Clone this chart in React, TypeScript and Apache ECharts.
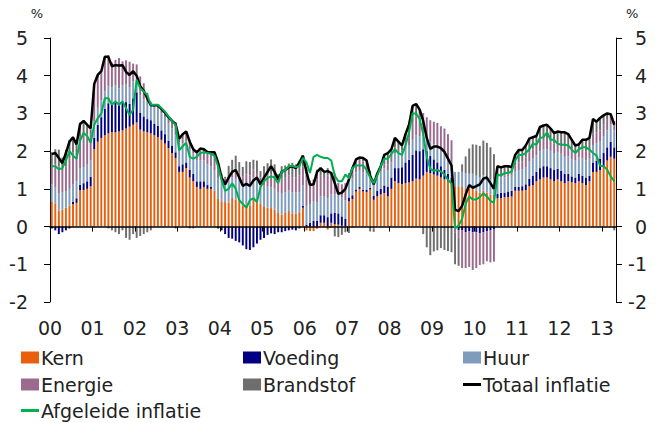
import React, { useEffect, useRef } from "react";
import * as echarts from "echarts";

// ---- categories -------------------------------------------------------
const yearLabels = ["00", "01", "02", "03", "04", "05", "06", "07", "08", "09", "10", "11", "12", "13"];
const months: string[] = [];
for (let y = 2000; y <= 2013; y++) {
  for (let m = 1; m <= 12; m++) {
    if (months.length < 160) months.push(`${y}-${m < 10 ? "0" + m : m}`);
  }
}

// ---- series values (contributions, %-points), Jan 2000 - Apr 2013 ------
const kern = [
  0.67, 0.6, 0.42, 0.45, 0.5, 0.55, 0.6, 0.63, 0.96, 0.97, 1.0, 1.07,
  2.05, 2.25, 2.35, 2.42, 2.47, 2.5, 2.5, 2.52, 2.55, 2.6, 2.65, 2.7,
  2.76, 2.57, 2.52, 2.5, 2.47, 2.42, 2.37, 2.3, 2.2, 2.08, 1.95, 1.82,
  1.45, 1.45, 1.55, 1.3, 1.2, 1.05, 1.0, 1.05, 1.0, 1.0, 0.95, 0.75,
  0.67, 0.65, 0.63, 0.76, 0.72, 0.7, 0.55, 0.58, 0.55, 0.76, 0.67, 0.6,
  0.54, 0.5, 0.49, 0.45, 0.36, 0.32, 0.36, 0.41, 0.35, 0.35, 0.36, 0.5,
  -0.1, -0.12, -0.12, -0.06, 0.1, 0.1, -0.08, 0.1, 0.06, 0.05, 0.02, -0.03,
  0.67, 0.73, 0.93, 1.0, 0.93, 0.92, 0.98, 0.71, 0.8, 0.85, 0.89, 0.8,
  1.0, 1.2, 1.15, 1.12, 1.15, 1.17, 1.2, 1.27, 1.25, 1.35, 1.45, 1.42,
  1.38, 1.35, 1.3, 1.25, 1.2, 1.15, 1.05, 1.05, 1.05, 1.0, 1.0, 1.0,
  0.95, 0.9, 0.95, 0.9, 0.85, 0.85, 0.75, 0.75, 0.78, 0.78, 0.8, 0.95,
  0.95, 0.95, 0.97, 1.07, 1.1, 1.2, 1.25, 1.3, 1.3, 1.25, 1.2, 1.25,
  1.2, 1.15, 1.2, 1.18, 1.15, 1.2, 1.15, 1.1, 1.2, 1.45, 1.45, 1.5,
  1.6, 1.75, 1.85, 1.8,
];
const voeding = [
  -0.05, -0.1, -0.2, -0.15, -0.1, -0.05, 0.05, 0.12, 0.15, 0.18, 0.2, 0.25,
  0.3, 0.45, 0.55, 0.7, 0.8, 0.75, 0.8, 0.7, 0.75, 0.7, 0.6, 0.7,
  0.8, 0.45, 0.4, 0.35, 0.35, 0.3, 0.3, 0.25, 0.25, 0.2, 0.2, 0.15,
  0.15, 0.2, 0.15, 0.2, 0.2, 0.15, 0.2, 0.15, 0.1, 0.05, 0.0, -0.05,
  -0.1, -0.2, -0.3, -0.32, -0.38, -0.42, -0.5, -0.6, -0.62, -0.55, -0.45, -0.35,
  -0.3, -0.22, -0.18, -0.2, -0.15, -0.15, -0.12, -0.1, -0.08, -0.1, -0.05, 0.05,
  0.05, 0.1, 0.15, 0.15, 0.2, 0.2, 0.25, 0.25, 0.3, 0.3, 0.25, 0.2,
  0.1, 0.1, 0.05, 0.05, 0.05, 0.05, 0.05, 0.1, 0.15, 0.15, 0.2, 0.25,
  0.3, 0.35, 0.4, 0.45, 0.55, 0.6, 0.7, 0.75, 0.75, 0.7, 0.55, 0.45,
  0.4, 0.35, 0.3, 0.25, 0.2, 0.15, -0.05, -0.1, -0.1, -0.15, -0.12, -0.15,
  -0.15, -0.17, -0.15, -0.12, -0.1, -0.08, 0.12, 0.15, 0.12, 0.15, 0.15, 0.1,
  0.1, 0.12, 0.15, 0.2, 0.25, 0.25, 0.3, 0.3, 0.3, 0.3, 0.3, 0.28,
  0.28, 0.25, 0.2, 0.15, 0.15, 0.2, 0.2, 0.2, 0.15, 0.25, 0.3, 0.3,
  0.35, 0.35, 0.4, 0.3,
];
const huur = [
  0.45, 0.45, 0.47, 0.45, 0.44, 0.45, 0.46, 0.45, 0.44, 0.43, 0.44, 0.43,
  0.44, 0.45, 0.45, 0.46, 0.45, 0.45, 0.44, 0.45, 0.45, 0.46, 0.45, 0.45,
  0.45, 0.46, 0.45, 0.45, 0.44, 0.45, 0.45, 0.45, 0.46, 0.45, 0.45, 0.45,
  0.55, 0.56, 0.55, 0.55, 0.54, 0.55, 0.55, 0.56, 0.55, 0.55, 0.55, 0.54,
  0.55, 0.55, 0.56, 0.55, 0.55, 0.54, 0.55, 0.55, 0.56, 0.55, 0.55, 0.55,
  0.55, 0.56, 0.55, 0.55, 0.54, 0.55, 0.55, 0.55, 0.56, 0.55, 0.55, 0.55,
  0.5, 0.5, 0.51, 0.5, 0.5, 0.49, 0.5, 0.5, 0.5, 0.51, 0.5, 0.5,
  0.45, 0.45, 0.46, 0.45, 0.45, 0.44, 0.45, 0.45, 0.45, 0.46, 0.45, 0.45,
  0.4, 0.4, 0.41, 0.4, 0.4, 0.39, 0.4, 0.4, 0.4, 0.41, 0.4, 0.4,
  0.4, 0.4, 0.41, 0.4, 0.4, 0.39, 0.4, 0.4, 0.4, 0.41, 0.4, 0.4,
  0.4, 0.4, 0.41, 0.4, 0.4, 0.39, 0.4, 0.4, 0.4, 0.41, 0.4, 0.42,
  0.45, 0.45, 0.46, 0.45, 0.45, 0.44, 0.45, 0.45, 0.45, 0.46, 0.45, 0.45,
  0.45, 0.45, 0.46, 0.45, 0.45, 0.44, 0.45, 0.45, 0.45, 0.46, 0.45, 0.45,
  0.45, 0.45, 0.46, 0.45,
];
const energie = [
  0.5, 0.6, 0.7, 0.6, 0.65, 0.8, 0.85, 0.7, 0.85, 0.85, 0.8, 0.7,
  0.83, 0.77, 0.72, 0.88, 0.83, 0.65, 0.68, 0.8, 0.63, 0.65, 0.67, 0.47,
  0.29, 0.5, 0.43, 0.25, 0.05, 0.05, 0.05, 0.07, 0.07, 0.12, 0.15, 0.35,
  0.08, 0.1, 0.22, 0.25, 0.15, 0.22, 0.27, 0.3, 0.33, 0.32, 0.42, 0.4,
  0.1, 0.08, 0.15, 0.15, 0.2, 0.2, 0.22, 0.25, 0.25, 0.2, 0.2, 0.15,
  0.25, 0.3, 0.35, 0.35, 0.35, 0.4, 0.4, 0.4, 0.4, 0.4, 0.45, 0.5,
  0.75, 0.5, 0.45, 0.6, 0.55, 0.5, 0.6, 0.6, 0.55, 0.3, 0.35, 0.45,
  0.2, 0.3, 0.35, 0.3, 0.3, 0.25, 0.0, -0.05, 0.0, 0.05, 0.1, 0.15,
  0.15, 0.15, 0.1, 0.05, 0.1, 0.2, 0.45, 0.5, 0.55, 0.55, 0.5, 0.55,
  0.6, 0.65, 0.65, 0.7, 0.65, 0.6, -0.1, -0.2, -1.0, -0.95, -0.95, -1.0,
  -0.95, -0.85, -0.85, -0.8, -0.85, -0.85, 0.05, 0.05, 0.05, 0.05, 0.05, 0.15,
  0.2, 0.2, 0.25, 0.25, 0.25, 0.25, 0.3, 0.3, 0.3, 0.3, 0.25, 0.25,
  0.25, 0.3, 0.3, 0.3, 0.25, 0.2, 0.25, 0.25, 0.25, 0.3, 0.3, 0.3,
  0.3, 0.3, 0.25, 0.25,
];
const brandstof = [
  0.35, 0.4, 0.45, 0.33, 0.45, 0.5, 0.42, 0.28, 0.31, 0.35, 0.25, 0.13,
  0.15, 0.1, 0.05, 0.05, -0.05, -0.1, -0.15, -0.2, -0.1, -0.3, -0.35, -0.2,
  -0.3, -0.25, -0.2, -0.15, -0.1, 0.0, 0.05, 0.05, 0.05, 0.05, 0.05, -0.05,
  0.1, 0.15, 0.05, -0.05, -0.05, 0.0, 0.05, 0.0, 0.0, 0.05, 0.05, 0.05,
  0.08, 0.04, 0.27, 0.31, 0.41, 0.27, 0.26, 0.35, 0.35, 0.26, 0.33, 0.17,
  0.26, 0.32, 0.39, 0.3, 0.14, 0.33, 0.31, 0.31, 0.38, 0.35, 0.39, 0.28,
  0.25, 0.12, 0.14, 0.26, 0.2, 0.15, 0.2, -0.03, -0.26, -0.28, -0.22, -0.12,
  -0.17, -0.03, 0.0, 0.03, 0.09, 0.08, -0.13, -0.09, 0.0, 0.1, 0.26, 0.3,
  0.2, 0.25, 0.2, 0.13, 0.25, 0.33, 0.45, 0.33, 0.15, -0.2, -0.55, -0.76,
  -0.66, -0.63, -0.57, -0.62, -0.65, -0.68, -0.85, -0.74, 0.2, 0.45, 0.67, 0.78,
  0.82, 0.84, 0.92, 0.92, 0.85, 0.68, 0.28, 0.22, 0.25, 0.22, 0.18, 0.28,
  0.33, 0.31, 0.33, 0.36, 0.32, 0.25, 0.34, 0.33, 0.35, 0.3, 0.28, 0.29,
  0.32, 0.35, 0.3, 0.22, 0.15, 0.13, 0.25, 0.3, 0.3, 0.4, 0.28, 0.33,
  0.25, 0.15, 0.03, -0.1,
];
const totaal = [
  1.92, 1.95, 1.82, 1.68, 1.95, 2.25, 2.37, 2.18, 2.72, 2.8, 2.7, 2.6,
  3.78, 4.02, 4.12, 4.5, 4.5, 4.25, 4.28, 4.27, 4.28, 4.1, 4.02, 4.12,
  4.0, 3.72, 3.6, 3.4, 3.22, 3.22, 3.22, 3.12, 3.02, 2.9, 2.8, 2.72,
  2.33, 2.45, 2.52, 2.25, 2.05, 1.97, 2.07, 2.05, 1.98, 1.97, 1.97, 1.7,
  1.3, 1.12, 1.3, 1.45, 1.5, 1.3, 1.08, 1.13, 1.08, 1.22, 1.3, 1.12,
  1.3, 1.45, 1.6, 1.45, 1.25, 1.45, 1.5, 1.57, 1.6, 1.55, 1.7, 1.88,
  1.45, 1.1, 1.12, 1.45, 1.55, 1.45, 1.47, 1.42, 1.15, 0.87, 0.9, 1.0,
  1.25, 1.55, 1.78, 1.83, 1.82, 1.75, 1.35, 1.12, 1.4, 1.6, 1.9, 1.95,
  2.05, 2.35, 2.25, 2.15, 2.45, 2.7, 3.2, 3.25, 3.1, 2.8, 2.35, 2.06,
  2.12, 2.12, 2.08, 1.98, 1.8, 1.62, 0.45, 0.41, 0.55, 0.85, 1.1, 1.03,
  1.07, 1.12, 1.27, 1.3, 1.15, 1.0, 1.6, 1.57, 1.6, 1.6, 1.58, 1.9,
  2.03, 2.03, 2.15, 2.33, 2.37, 2.4, 2.64, 2.68, 2.7, 2.6, 2.48, 2.52,
  2.5, 2.5, 2.45, 2.3, 2.15, 2.18, 2.3, 2.3, 2.35, 2.85, 2.78, 2.88,
  2.95, 3.0, 2.98, 2.7,
];
const afgeleide = [
  1.6, 1.6, 1.52, 1.55, 1.75, 2.0, 1.88, 1.8, 2.28, 2.48, 2.4, 2.22,
  2.7, 2.87, 3.0, 3.4, 3.4, 3.23, 3.32, 3.23, 3.32, 3.14, 2.96, 3.1,
  3.89, 3.67, 3.58, 3.49, 3.23, 3.23, 3.23, 3.14, 3.05, 2.92, 2.79, 2.7,
  2.02, 2.13, 2.22, 1.85, 1.8, 1.85, 1.95, 1.97, 1.95, 1.93, 1.88, 1.6,
  1.24, 0.95, 1.0, 1.15, 1.0, 0.7, 0.6, 0.5, 0.7, 0.75, 0.65, 1.05,
  1.2, 1.29, 1.33, 1.3, 1.15, 1.45, 1.5, 1.6, 1.61, 1.58, 1.6, 1.82,
  1.7, 1.42, 1.85, 1.9, 1.85, 1.82, 1.82, 1.75, 1.35, 1.2, 1.2, 1.38,
  1.28, 1.55, 1.62, 1.62, 1.62, 1.5, 1.3, 1.15, 1.35, 1.6, 1.8, 1.8,
  1.92, 2.05, 1.95, 1.9, 2.15, 2.5, 3.0, 3.0, 2.85, 2.45, 1.85, 1.53,
  1.48, 1.5, 1.46, 1.38, 1.24, 1.14, -0.05, 0.02, 0.2, 0.6, 0.8, 0.72,
  0.72, 0.78, 0.88, 0.8, 0.68, 0.63, 1.38, 1.35, 1.42, 1.42, 1.46, 1.75,
  1.9, 1.9, 1.95, 2.05, 2.2, 2.17, 2.35, 2.37, 2.5, 2.3, 2.3, 2.2,
  2.17, 2.17, 2.15, 2.04, 1.95, 2.05, 2.1, 2.1, 2.04, 1.95, 1.88, 1.61,
  1.6, 1.51, 1.33, 1.2,
];
const yTicks = { min: -2, max: 5, interval: 1 };

// ---- styles ---------------------------------------------------------------
const FONT = "'DejaVu Sans', Verdana, sans-serif";
const TXT = "#222222";
const C_KERN = "#E8600E";
const C_VOED = "#000080";
const C_HUUR = "#7F9CBC";
const C_ENER = "#9A6A8F";
const C_BRAN = "#6E6E6E";
const C_TOT = "#000000";
const C_AFG = "#00B050";

function legendItem(name: string, left: number, top: number, h: number) {
  return {
    data: [name],
    left,
    top,
    icon: "rect",
    itemWidth: 18,
    itemHeight: h,
    padding: 0,
    selectedMode: false,
    textStyle: { fontSize: 19, lineHeight: 19, color: TXT, fontFamily: FONT, padding: [0, 0, 0, -3] },
  };
}

function bar(name: string, data: number[], color: string) {
  return {
    type: "bar",
    name,
    data,
    stack: "infl",
    barWidth: "55%",
    xAxisIndex: 0,
    yAxisIndex: 0,
    itemStyle: { color },
  };
}

function buildOption() {
  const yAxisCommon = {
    type: "value",
    min: yTicks.min,
    max: yTicks.max,
    interval: yTicks.interval,
    splitLine: { show: false },
    axisLine: { show: true, lineStyle: { color: "#000", width: 1 } },
    axisTick: { show: true, length: 6, lineStyle: { color: "#000", width: 1 } },
  };
  return {
    animation: false,
    backgroundColor: "#ffffff",
    textStyle: { fontFamily: FONT },
    grid: [{ left: 50, right: 40, top: 38, height: 264 }],
    xAxis: [
      {
        type: "category",
        data: months,
        boundaryGap: true,
        z: 3,
        axisLine: { onZero: true, lineStyle: { color: "#000", width: 1.5 } },
        axisTick: {
          show: true,
          length: 5,
          interval: (i: number) => i % 12 === 0,
          lineStyle: { color: "#000", width: 1 },
        },
        axisLabel: { show: false },
      },
      {
        type: "category",
        data: months,
        boundaryGap: true,
        position: "bottom",
        axisLine: { show: false, onZero: false },
        axisTick: { show: false },
        axisLabel: {
          interval: (i: number) => i % 12 === 0,
          formatter: (_v: string, i: number) => yearLabels[Math.floor(i / 12)],
          fontSize: 19,
          lineHeight: 19,
          color: TXT,
          fontFamily: FONT,
          margin: 16,
          padding: [0, 3.5, 0, 0],
        },
      },
    ],
    yAxis: [
      {
        ...yAxisCommon,
        position: "left",
        axisLabel: { fontSize: 19, color: TXT, fontFamily: FONT, margin: 22 },
        name: "%",
        nameLocation: "end",
        nameGap: 18,
        nameTextStyle: { fontSize: 13, color: TXT, fontFamily: FONT, align: "right", padding: [0, 7, 0, 0] },
      },
      {
        ...yAxisCommon,
        position: "right",
        axisLabel: { fontSize: 19, color: TXT, fontFamily: FONT, margin: 31, align: "right" },
        name: "%",
        nameLocation: "end",
        nameGap: 18,
        nameTextStyle: { fontSize: 13, color: TXT, fontFamily: FONT, align: "left", padding: [0, 0, 0, 10] },
      },
    ],
    legend: [
      legendItem("Kern", 21, 348, 12),
      legendItem("Voeding", 243, 348, 12),
      legendItem("Huur", 463, 348, 12),
      legendItem("Energie", 21, 375, 12),
      legendItem("Brandstof", 243, 375, 12),
      legendItem("Totaal inflatie", 463, 375, 3),
      legendItem("Afgeleide inflatie", 21, 401, 3),
    ],
    series: [
      bar("Kern", kern, C_KERN),
      bar("Voeding", voeding, C_VOED),
      bar("Huur", huur, C_HUUR),
      bar("Energie", energie, C_ENER),
      bar("Brandstof", brandstof, C_BRAN),
      {
        type: "line",
        name: "Totaal inflatie",
        data: totaal,
        symbol: "none",
        z: 4,
        lineStyle: { color: C_TOT, width: 2.5 },
        itemStyle: { color: C_TOT },
      },
      {
        type: "line",
        name: "Afgeleide inflatie",
        data: afgeleide,
        symbol: "none",
        z: 5,
        lineStyle: { color: C_AFG, width: 2 },
        itemStyle: { color: C_AFG },
      },
    ],
  };
}

export default function App() {
  const ref = useRef<HTMLDivElement>(null);
  useEffect(() => {
    if (!ref.current) return;
    const chart = echarts.init(ref.current, null, { renderer: "svg" });
    chart.setOption(buildOption() as any);
    return () => chart.dispose();
  }, []);
  return (
    <div
      ref={ref}
      style={{ position: "fixed", left: 0, top: 0, width: 656, height: 423, background: "#fff" }}
    />
  );
}
